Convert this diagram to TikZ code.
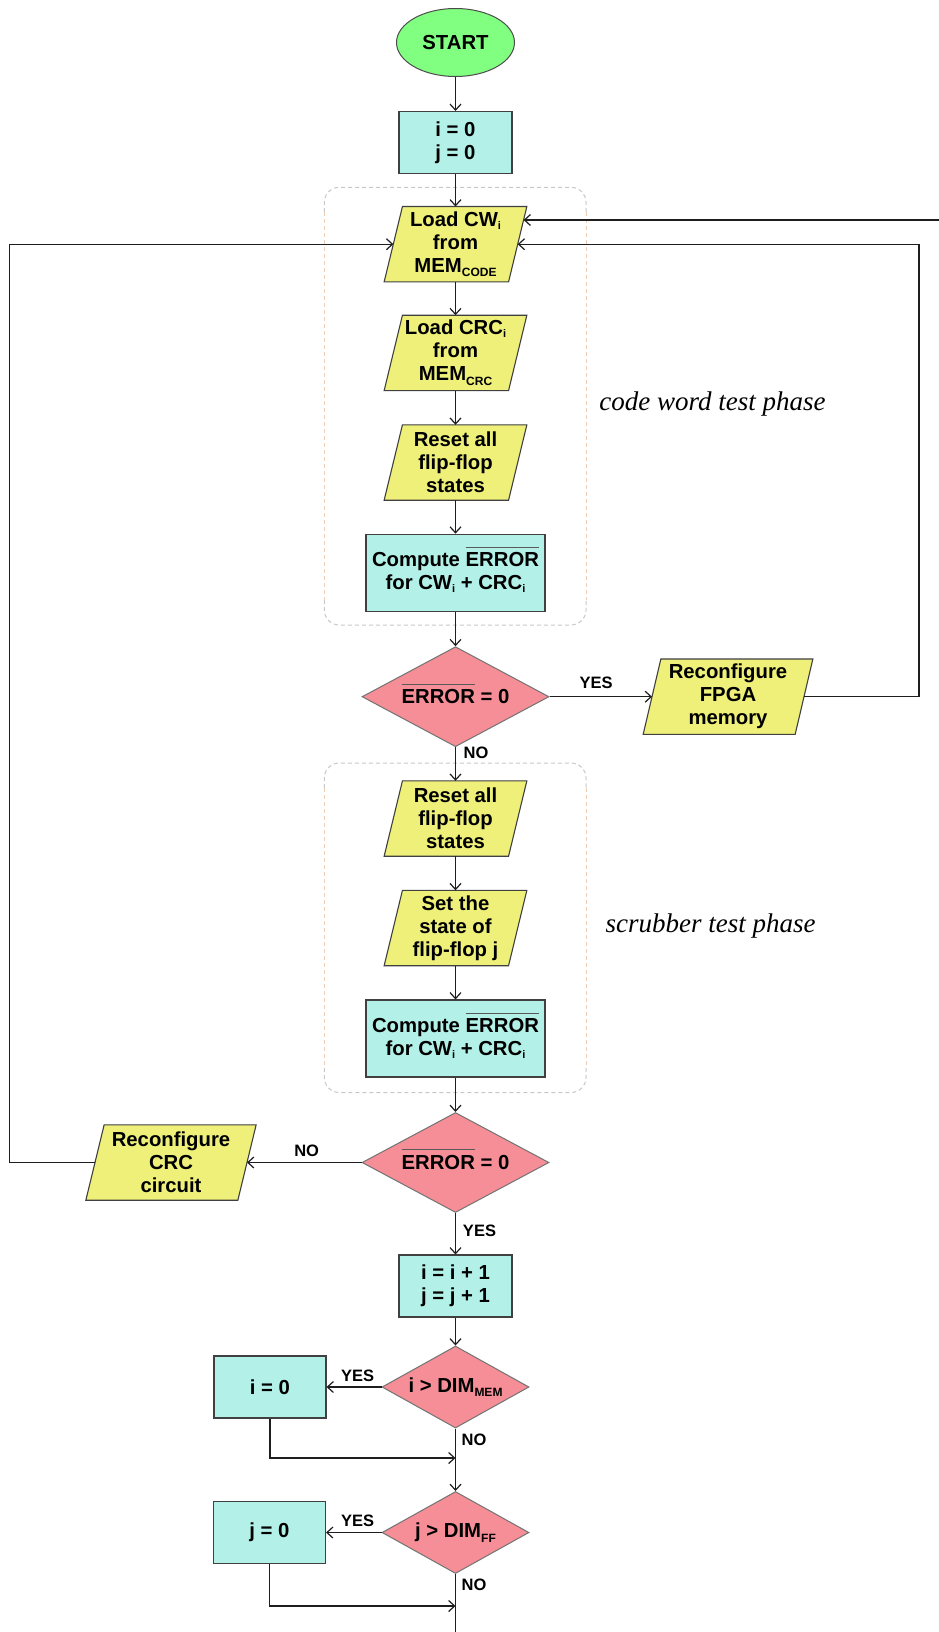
\documentclass[tikz,border=0pt]{standalone}
\usepackage{fontspec}
\setmainfont{Liberation Sans}
\newfontfamily\phasefont{Liberation Serif}
\usetikzlibrary{arrows.meta,shapes.geometric,calc}
\pgfdeclarelayer{bg}
\pgfsetlayers{bg,main}
\definecolor{cgreen}{RGB}{128,255,128}
\definecolor{ccyan}{RGB}{178,240,232}
\definecolor{cyel}{RGB}{238,240,122}
\definecolor{cpink}{RGB}{245,142,150}
\definecolor{cline}{RGB}{30,30,30}
\definecolor{cdashg}{RGB}{200,200,200}
\definecolor{cdashp}{RGB}{238,205,180}
\newcommand\ovl[1]{\smash{\vbox{{\color{black!65}\hrule height 0.9pt}\kern 5pt\hbox{#1}}}}
\newcommand\sbi{\raisebox{-3pt}{\fontsize{11}{11}\selectfont i}}
\newcommand\sbs[1]{\raisebox{-4.5pt}{\fontsize{12}{12}\selectfont #1}}
\newcommand\paraout[2]{\begin{pgfonlayer}{bg}\draw[paraline] ([xshift=-#2]#1.south west) -- ([xshift=-#2]#1.south east) -- ([xshift=#2]#1.north east) -- ([xshift=#2]#1.north west) -- cycle;\end{pgfonlayer}}
\tikzset{
  every node/.style={font=\fontsize{20.3}{23}\selectfont\bfseries, align=center, inner sep=0pt},
  ln/.style={draw=cline, line width=1.2pt},
  arr/.style={draw=cline, line width=1.2pt, -{Straight Barb[length=6pt,width=11pt]}},
  startbox/.style={ellipse, draw=black!70, line width=1pt, fill=cgreen, minimum width=118pt, minimum height=68pt},
  procbox/.style={rectangle, draw=black!75, line width=1.1pt, fill=ccyan, minimum width=113pt, minimum height=62pt},
  compbox/.style={procbox, minimum width=179pt, minimum height=77pt},
  para/.style={rectangle, minimum width=124pt, minimum height=75pt},
  widepara/.style={rectangle, minimum width=151.6pt, minimum height=75pt},
  paraline/.style={draw=black!75, line width=1.1pt, fill=cyel},
  decbig/.style={diamond, draw=black!55, line width=1pt, fill=cpink, aspect=1.87, minimum width=187pt, minimum height=100pt},
  decsmall/.style={diamond, draw=black!55, line width=1pt, fill=cpink, aspect=1.8, minimum width=147pt, minimum height=82pt},
  lab/.style={font=\fontsize{16.5}{18}\selectfont\bfseries},
  phase/.style={font=\fontsize{27}{30}\selectfont\phasefont\itshape, text=black},
  dashg/.style={draw=cdashg, line width=1pt, dash pattern=on 4pt off 3pt, rounded corners=15pt},
  dashp/.style={draw=cdashp, line width=1pt, dash pattern=on 4pt off 3pt},
}
\begin{document}
\begin{tikzpicture}[x=1pt,y=-1pt]
\begin{pgfonlayer}{bg}
\fill[white] (0,0) rectangle (939,1632);
\end{pgfonlayer}
\useasboundingbox (0,0) rectangle (939,1632);

% dashed phase boxes
\draw[dashg] (324.3,212) -- (324.3,187.3) -- (586,187.3) -- (586,212);
\draw[dashg] (324.3,600) -- (324.3,625) -- (586,625) -- (586,600);
\draw[dashp] (324.3,212) -- (324.3,600);
\draw[dashp] (586,212) -- (586,600);
\draw[dashg] (324.3,788) -- (324.3,763) -- (586,763) -- (586,788);
\draw[dashg] (324.3,1068) -- (324.3,1092.5) -- (586,1092.5) -- (586,1068);
\draw[dashp] (324.3,788) -- (324.3,1068);
\draw[dashp] (586,788) -- (586,1068);

% nodes
\node[startbox] (start) at (455.5,42.5) {START};
\node[procbox] (init) at (455.5,142.5) {i = 0\\j = 0};
\node[para] (loadcw) at (455.5,244.2) {Load CW\sbi\\from\\MEM\sbs{CODE}};
\paraout{loadcw}{9.15pt}
\node[para] (loadcrc) at (455.5,352.9) {Load CRC\sbi\\from\\MEM\sbs{CRC}};
\paraout{loadcrc}{9.15pt}
\node[para] (reset1) at (455.5,462.5) {Reset all\\flip-flop\\states};
\paraout{reset1}{9.15pt}
\node[compbox] (comp1) at (455.5,572.7) {Compute \ovl{ERROR}\\for CW\sbi{} + CRC\sbi};
\node[decbig] (dia1) at (455.5,696.7) {\ovl{ERROR} = 0};
\node[widepara] (fpga) at (728,696.7) {Reconfigure\\FPGA\\memory};
\paraout{fpga}{8.85pt}
\node[para] (reset2) at (455.5,818.5) {Reset all\\flip-flop\\states};
\paraout{reset2}{9.15pt}
\node[para] (setthe) at (455.5,928) {Set the\\state of\\flip-flop j};
\paraout{setthe}{9.15pt}
\node[compbox] (comp2) at (455.5,1038.5) {Compute \ovl{ERROR}\\for CW\sbi{} + CRC\sbi};
\node[decbig] (dia2) at (455.5,1162.5) {\ovl{ERROR} = 0};
\node[widepara] (crcr) at (171,1162.5) {Reconfigure\\CRC\\circuit};
\paraout{crcr}{9.15pt}
\node[procbox] (inc) at (455.5,1286) {i = i + 1\\j = j + 1};
\node[decsmall] (dia3) at (455.5,1387) {i > DIM\sbs{MEM}};
\node[procbox, minimum width=112pt] (izero) at (270,1387) {i = 0};
\node[decsmall] (dia4) at (455.5,1532.5) {j > DIM\sbs{FF}};
\node[procbox, minimum width=112pt] (jzero) at (269.5,1532.5) {j = 0};

% phase labels
\node[phase] (ph1) at (712.5,404) {code word test phase};
\node[phase] (ph2) at (710.5,926) {scrubber test phase};

% branch labels
\node[lab] (yes1) at (596,683) {YES};
\node[lab] (no1) at (476,753) {NO};
\node[lab] (no2) at (306.7,1151) {NO};
\node[lab] (yes2) at (479.5,1231) {YES};
\node[lab] (yes3) at (357.7,1376) {YES};
\node[lab] (no3) at (474,1440) {NO};
\node[lab] (yes4) at (357.7,1521) {YES};
\node[lab] (no4) at (474,1585) {NO};

% helper coordinates
\coordinate (rx) at (919,0);
\coordinate (lx) at (9.3,0);
\coordinate (topin) at (939,220);
\coordinate (m1) at (455.5,1458);
\coordinate (m2) at (455.5,1606);
\coordinate (bot) at (455.5,1632);

% connectors
\draw[arr] (start.south) -- (init.north);
\draw[arr] (init.south) -- (loadcw.north);
\draw[arr] (loadcw.south) -- (loadcrc.north);
\draw[arr] (loadcrc.south) -- (reset1.north);
\draw[arr] (reset1.south) -- (comp1.north);
\draw[arr] (comp1.south) -- (dia1.north);
\draw[arr] (dia1.east) -- (fpga.west);
\draw[arr] (fpga.east) -- (fpga.east -| rx) |- (loadcw.east);
\draw[arr] (topin) -- ([xshift=5.9pt,yshift=24.2pt]loadcw.east);
\draw[arr] (dia1.south) -- (reset2.north);
\draw[arr] (reset2.south) -- (setthe.north);
\draw[arr] (setthe.south) -- (comp2.north);
\draw[arr] (comp2.south) -- (dia2.north);
\draw[arr] (dia2.west) -- (crcr.east);
\draw[arr] (crcr.west) -- (crcr.west -| lx) |- (loadcw.west);
\draw[arr] (dia2.south) -- (inc.north);
\draw[arr] (inc.south) -- (dia3.north);
\draw[arr] (dia3.west) -- (izero.east);
\draw[arr] (izero.south) |- (m1);
\draw[arr] (dia3.south) -- (dia4.north);
\draw[arr] (dia4.west) -- (jzero.east);
\draw[arr] (jzero.south) |- (m2);
\draw[ln] (dia4.south) -- (bot);
\end{tikzpicture}
\end{document}
